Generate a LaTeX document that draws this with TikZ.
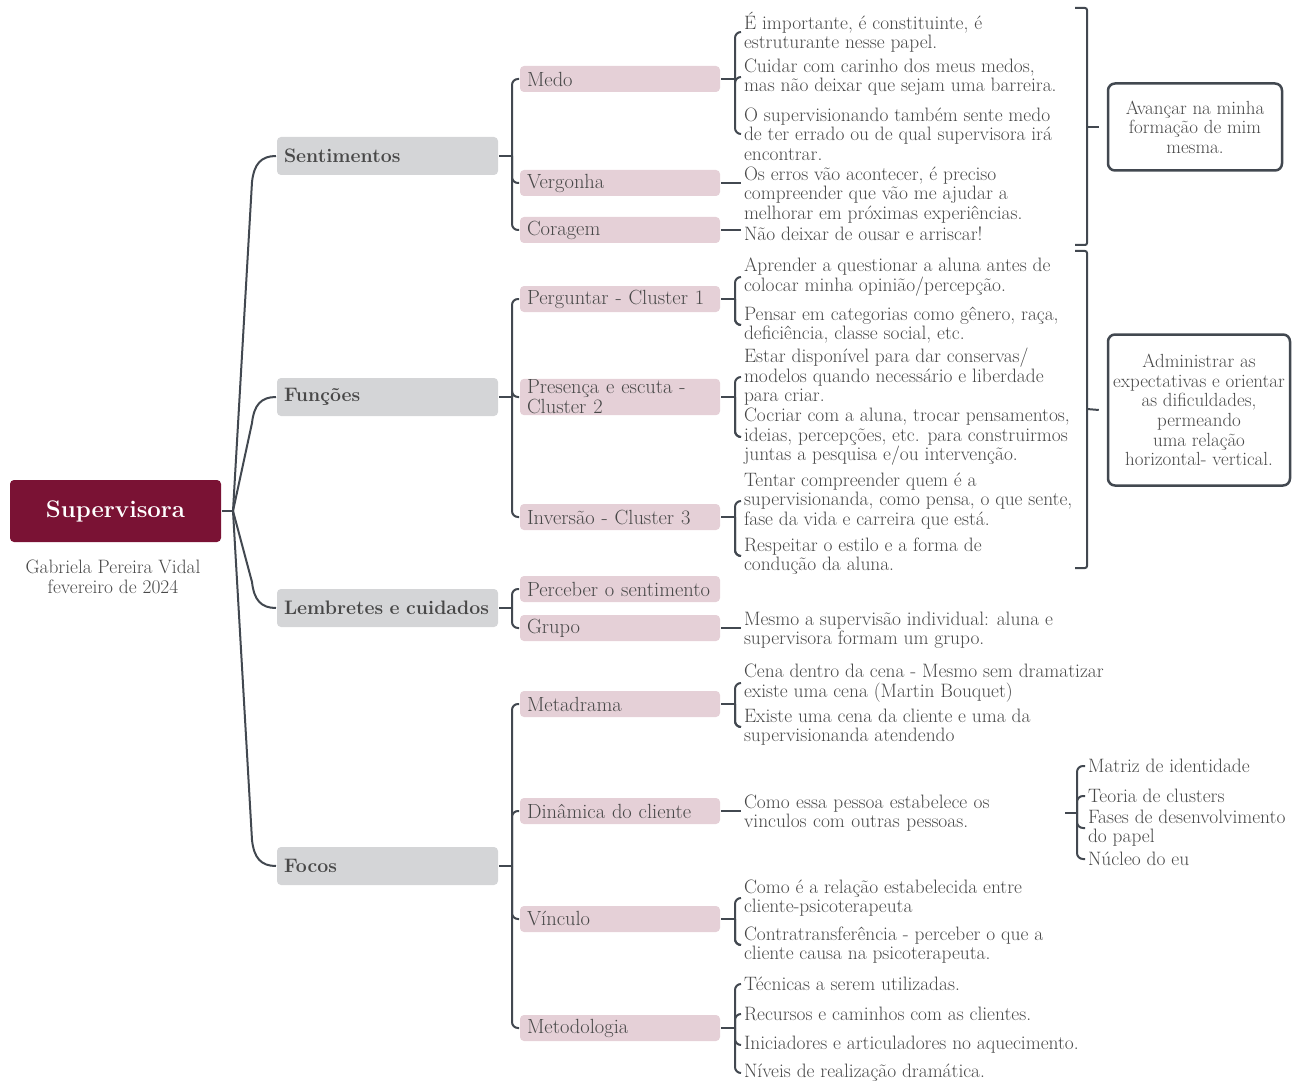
\documentclass[tikz,border=0pt]{standalone}
\usepackage{fontspec}
\definecolor{wine}{RGB}{122, 18, 52}
\definecolor{greybox}{RGB}{212, 213, 215}
\definecolor{pinkbox}{RGB}{229, 208, 215}
\definecolor{linegrey}{RGB}{66, 72, 80}
\definecolor{textgrey}{RGB}{72, 72, 72}

\begin{document}
\begin{tikzpicture}[x=1pt, y=-1pt, line width=2pt,
  rootbox/.style={fill=wine, rounded corners=4pt, minimum width=211pt, minimum height=62pt,
    text=white, font=\fontsize{24}{28}\selectfont\bfseries},
  mainbox/.style={anchor=west, fill=greybox, rounded corners=4pt, text width=207pt, inner xsep=7pt,
    minimum height=38pt, text=textgrey, align=left, font=\fontsize{19.5}{22}\selectfont\bfseries},
  subbox/.style={anchor=west, fill=pinkbox, rounded corners=4pt, text width=186pt, inner xsep=7pt,
    inner ysep=1pt, minimum height=26pt, text=textgrey, align=left, font=\fontsize{20.5}{20}\selectfont},
  leaf/.style={anchor=west, inner sep=2pt, text=textgrey, align=left, font=\fontsize{19.4}{19.5}\selectfont},
  summary/.style={draw=linegrey, line width=2.5pt, rounded corners=7pt, text=textgrey, align=center,
    font=\fontsize{19}{19.6}\selectfont},
  link/.style={draw=linegrey, rounded corners=6pt}]
\useasboundingbox (0,0) rectangle (1303,1083);

% root
\node[rootbox] (root) at (115.5,511) {Supervisora};
\node[text=textgrey, align=center, font=\fontsize{19.4}{19.5}\selectfont] (autor) at (113,577) {Gabriela Pereira Vidal\\fevereiro de 2024};

% main topics
\node[mainbox] (sent) at (276,156) {Sentimentos};
\node[mainbox] (func) at (276,397) {Funções};
\node[mainbox] (lemb) at (276,608) {Lembretes e cuidados};
\node[mainbox] (focos) at (276,866) {Focos};

% sub topics
\node[subbox] (medo) at (519,79) {Medo};
\node[subbox] (verg) at (519,183) {Vergonha};
\node[subbox] (cora) at (519,230) {Coragem};
\node[subbox] (perg) at (519,299) {Perguntar - Cluster 1};
\node[subbox] (pres) at (519,397) {Presença e escuta -\\Cluster 2};
\node[subbox] (inve) at (519,517) {Inversão - Cluster 3};
\node[subbox] (perc) at (519,589) {Perceber o sentimento};
\node[subbox] (grup) at (519,628) {Grupo};
\node[subbox] (meta) at (519,704) {Metadrama};
\node[subbox] (dina) at (519,811) {Dinâmica do cliente};
\node[subbox] (vinc) at (519,919) {Vínculo};
\node[subbox] (meto) at (519,1028) {Metodologia};

% leaves
\node[leaf] (m1) at (741,32) {É importante, é constituinte, é\\estruturante nesse papel.};
\node[leaf] (m2) at (741,77) {Cuidar com carinho dos meus medos,\\mas não deixar que sejam uma barreira.};
\node[leaf] (m3) at (741,134) {O supervisionando também sente medo\\de ter errado ou de qual supervisora irá\\encontrar.};
\node[leaf] (v1) at (741,195) {Os erros vão acontecer, é preciso\\compreender que vão me ajudar a\\melhorar em próximas experiências.};
\node[leaf] (c1) at (741,234) {Não deixar de ousar e arriscar!};
\node[leaf] (f1) at (741,277) {Aprender a questionar a aluna antes de\\colocar minha opinião/percepção.};
\node[leaf] (f2) at (741,325) {Pensar em categorias como gênero, raça,\\deficiência, classe social, etc.};
\node[leaf] (f3) at (741,377) {Estar disponível para dar conservas/\\modelos quando necessário e liberdade\\para criar.};
\node[leaf] (f4) at (741,437) {Cocriar com a aluna, trocar pensamentos,\\ideias, percepções, etc. para construirmos\\juntas a pesquisa e/ou intervenção.};
\node[leaf] (f5) at (741,501) {Tentar compreender quem é a\\supervisionanda, como pensa, o que sente,\\fase da vida e carreira que está.};
\node[leaf] (f6) at (741,556) {Respeitar o estilo e a forma de\\condução da aluna.};
\node[leaf] (g1) at (741,630) {Mesmo a supervisão individual: aluna e\\supervisora formam um grupo.};
\node[leaf] (e1) at (741,683) {Cena dentro da cena - Mesmo sem dramatizar\\existe uma cena (Martin Bouquet)};
\node[leaf] (e2) at (741,727) {Existe uma cena da cliente e uma da\\supervisionanda atendendo};
\node[leaf, text width=318pt] (d1) at (741,813) {Como essa pessoa estabelece os\\vinculos com outras pessoas.};
\node[leaf] (dd1) at (1085,766) {Matriz de identidade};
\node[leaf] (dd2) at (1085,796) {Teoria de clusters};
\node[leaf] (dd3) at (1085,828) {Fases de desenvolvimento\\do papel};
\node[leaf] (dd4) at (1085,859) {Núcleo do eu};
\node[leaf] (w1) at (741,898) {Como é a relação estabelecida entre\\cliente-psicoterapeuta};
\node[leaf] (w2) at (741,945) {Contratransferência - perceber o que a\\cliente causa na psicoterapeuta.};
\node[leaf] (t1) at (741,984) {Técnicas a serem utilizadas.};
\node[leaf] (t2) at (741,1014) {Recursos e caminhos com as clientes.};
\node[leaf] (t3) at (741,1045) {Iniciadores e articuladores no aquecimento.};
\node[leaf] (t4) at (741,1073) {Níveis de realização dramática.};

% summaries
\node[summary, minimum width=174pt, minimum height=87pt] (avanco) at (1195,127) {Avançar na minha\\formação de mim\\mesma.};
\node[summary, minimum width=182pt, minimum height=151pt] (admin) at (1199,410) {Administrar as\\expectativas e orientar\\as dificuldades,\\permeando\\uma relação\\horizontal- vertical.};

% root to main topics
\draw[link] (root.east) -- ++(11,0) coordinate (jroot);
\foreach \n/\y/\s in {sent/156/1, func/397/1, lemb/608/-1, focos/866/-1}
  \draw[draw=linegrey] (jroot) -- (252,{\y+26*\s}) .. controls (254,{\y+8*\s}) and (261,\y) .. (\n.west);

% main topics to sub topics
\draw[link] (sent.east) -- ++(13,0) coordinate (jsent);
\foreach \c in {medo, verg, cora}
  \draw[link] (jsent) |- (\c.west);
\draw[link] (func.east) -- ++(13,0) coordinate (jfunc);
\foreach \c in {perg, pres, inve}
  \draw[link] (jfunc) |- (\c.west);
\draw[link] (lemb.east) -- ++(13,0) coordinate (jlemb);
\foreach \c in {perc, grup}
  \draw[link] (jlemb) |- (\c.west);
\draw[link] (focos.east) -- ++(13,0) coordinate (jfocos);
\foreach \c in {meta, dina, vinc, meto}
  \draw[link] (jfocos) |- (\c.west);

% sub topics to leaves
\foreach \s/\a/\b/\cc in {medo/m1/m2/m3, perg/f1/f2/f2, pres/f3/f4/f4, inve/f5/f6/f6, meta/e1/e2/e2, vinc/w1/w2/w2} {
  \draw[link] (\s.east) -- ++(14,0) coordinate (j\s);
  \foreach \l in {\a, \b, \cc}
    \draw[link] (j\s) |- (\l.west);
}
\draw[link] (meto.east) -- ++(14,0) coordinate (jmeto);
\foreach \l in {t1, t2, t3, t4}
  \draw[link] (jmeto) |- (\l.west);
\draw[link] (verg.east) -- (verg.east -| v1.west);
\draw[link] (cora.east) -- (cora.east -| c1.west);
\draw[link] (grup.east) -- (grup.east -| g1.west);
\draw[link] (dina.east) -- (dina.east -| d1.west);
\draw[link] (d1.east) -- ++(12,0) coordinate (jd1);
\foreach \l in {dd1, dd2, dd3, dd4}
  \draw[link] (jd1) |- (\l.west);

% summary brackets
\coordinate (s1top) at (1075,8);
\coordinate (s1bot) at (1075,245);
\coordinate (s2top) at (1075,251);
\coordinate (s2bot) at (1075,568);
\draw[link, rounded corners=2pt] (s1top) -| (1087,127) |- (s1bot);
\draw[link] (1087,127) -- ([xshift=-8pt]avanco.west);
\draw[link, rounded corners=2pt] (s2top) -| (1087,409) |- (s2bot);
\draw[link] (1087,409) -- ([xshift=-8pt]admin.west);
\end{tikzpicture}
\end{document}
